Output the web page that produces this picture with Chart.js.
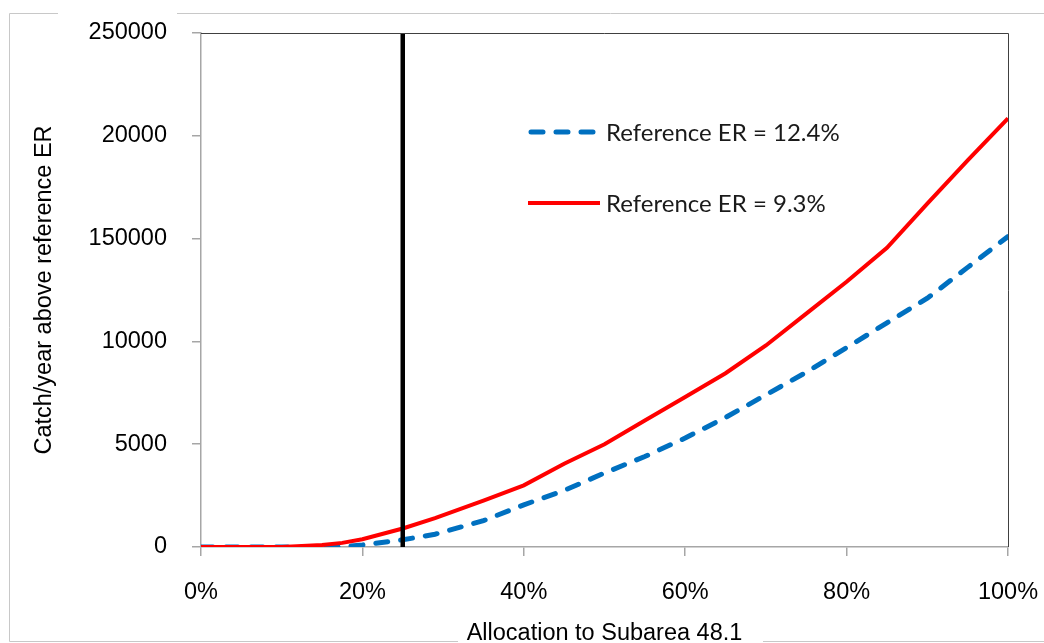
<!DOCTYPE html>
<html>
<head>
<meta charset="utf-8">
<script src="https://cdn.jsdelivr.net/npm/chart.js@4.4.1/dist/chart.umd.min.js"></script>
<style>
  html, body { margin: 0; padding: 0; background: #ffffff; }
  #wrap { width: 1044px; height: 643px; position: relative; }
</style>
</head>
<body>
<div id="wrap"><canvas id="c" width="1044" height="643"></canvas></div>
<script>
// ---- data ----
const allocation = [0, 0.05, 0.10, 0.15, 0.175, 0.20, 0.25, 0.29, 0.35, 0.40, 0.45, 0.50, 0.55, 0.60, 0.65, 0.70, 0.75, 0.80, 0.85, 0.90, 0.95, 1.00];
const catchER124 = [0, 0, 0, 0, 20, 100, 350, 620, 1280, 2050, 2750, 3600, 4400, 5300, 6300, 7400, 8500, 9700, 10900, 12100, 13600, 15100];
const catchER93  = [0, 0, 0, 100, 200, 380, 900, 1400, 2250, 3000, 4050, 5000, 6150, 7300, 8450, 9800, 11350, 12900, 14550, 16700, 18800, 20850];
const seriesLabels = ['Reference ER = 12.4%', 'Reference ER = 9.3%'];
const currentAllocation = 0.25;
const yRange = [0, 25000];
const xTickLabels = ['0%', '20%', '40%', '60%', '80%', '100%'];
const yTickLabels = ['0', '5000', '10000', '150000', '20000', '250000'];
const xTitle = 'Allocation to Subarea 48.1';
const yTitle = 'Catch/year above reference ER';

const toPts = (xs, ys) => xs.map((x, i) => ({ x: x, y: ys[i] }));

const AXIS_FONT = { family: "'Liberation Sans', Arial, sans-serif", size: 23.5, lineHeight: 1 };

function clearScalePadding(s) {
  s.paddingTop = 0; s.paddingBottom = 0; s.paddingLeft = 0; s.paddingRight = 0;
}

const framePlugin = {
  id: 'frame',
  beforeDraw(chart) {
    const ctx = chart.ctx;
    ctx.save();
    ctx.strokeStyle = '#c8c8c8';
    ctx.lineWidth = 1;
    ctx.beginPath();
    ctx.moveTo(9.5, 13.5); ctx.lineTo(9.5, 641.5);
    ctx.moveTo(9.5, 13.5); ctx.lineTo(58, 13.5);
    ctx.moveTo(177, 13.5); ctx.lineTo(1044, 13.5);
    ctx.moveTo(9.5, 641.5); ctx.lineTo(458, 641.5);
    ctx.moveTo(763, 641.5); ctx.lineTo(1044, 641.5);
    ctx.stroke();
    ctx.restore();
  },
  afterDatasetsDraw(chart) {
    const { ctx, chartArea: a } = chart;
    ctx.save();
    ctx.strokeStyle = '#404040';
    ctx.lineWidth = 1;
    ctx.beginPath();
    ctx.moveTo(a.left, a.top + 0.5); ctx.lineTo(a.right + 0.5, a.top + 0.5);
    ctx.lineTo(a.right + 0.5, a.bottom);
    ctx.stroke();
    // legend
    const ds = chart.data.datasets;
    const rows = [{ d: ds[0], y: 132 }, { d: ds[1], y: 203 }];
    rows.forEach(r => {
      ctx.save();
      ctx.strokeStyle = r.d.borderColor;
      ctx.lineWidth = r.d.borderWidth;
      ctx.lineCap = r.d.borderCapStyle || 'butt';
      ctx.setLineDash(r.d.borderDash || []);
      ctx.beginPath();
      if (r.d.borderDash && r.d.borderDash.length) {
        ctx.moveTo(531, r.y); ctx.lineTo(597, r.y);
      } else {
        ctx.moveTo(528, r.y); ctx.lineTo(600, r.y);
      }
      ctx.stroke();
      ctx.restore();
      ctx.fillStyle = '#1a1a1a';
      ctx.font = "24px Lato, 'Open Sans', sans-serif";
      ctx.textBaseline = 'middle';
      ctx.textAlign = 'left';
      ctx.fillText(r.d.label, 606, r.y + 1);
    });
    ctx.restore();
  }
};

new Chart(document.getElementById('c'), {
  type: 'line',
  data: {
    datasets: [
      {
        label: seriesLabels[0],
        data: toPts(allocation, catchER124),
        borderColor: '#0070c0',
        borderWidth: 5,
        borderDash: [12, 13],
        borderCapStyle: 'round',
        pointRadius: 0,
        tension: 0,
        order: 2
      },
      {
        label: seriesLabels[1],
        data: toPts(allocation, catchER93),
        borderColor: '#ff0000',
        borderWidth: 4,
        pointRadius: 0,
        tension: 0,
        order: 1
      },
      {
        label: 'current',
        data: [{ x: currentAllocation, y: yRange[0] }, { x: currentAllocation, y: yRange[1] }],
        borderColor: '#000000',
        borderWidth: 4.5,
        pointRadius: 0,
        order: 0
      }
    ]
  },
  options: {
    responsive: false,
    animation: false,
    devicePixelRatio: 1,
    layout: { padding: { left: 0, top: 33, right: 36, bottom: 0 } },
    plugins: { legend: { display: false }, tooltip: { enabled: false } },
    scales: {
      x: {
        type: 'linear',
        min: 0, max: 1,
        ticks: {
          stepSize: 0.2,
          color: '#000',
          font: AXIS_FONT,
          padding: 25,
          maxRotation: 0,
          callback: (v) => { const i = Math.round(v * 5); return xTickLabels[i]; }
        },
        grid: { drawOnChartArea: false, drawTicks: true, tickLength: 9, color: '#a6a6a6', lineWidth: 1.5 },
        border: { display: true, color: '#a6a6a6', width: 1.5 },
        title: { display: true, text: xTitle, color: '#000', font: AXIS_FONT, padding: { top: 0, bottom: -2 } },
        afterFit: (s) => { s.height = 643 - 547; clearScalePadding(s); }
      },
      y: {
        type: 'linear',
        min: yRange[0], max: yRange[1],
        ticks: {
          stepSize: 5000,
          color: '#000',
          font: AXIS_FONT,
          padding: 25,
          callback: (v) => yTickLabels[Math.round(v / 5000)]
        },
        grid: { drawOnChartArea: false, drawTicks: true, tickLength: 9, color: '#a6a6a6', lineWidth: 1.5 },
        border: { display: true, color: '#a6a6a6', width: 1.5 },
        title: { display: true, text: yTitle, color: '#000', font: AXIS_FONT, padding: { top: 33, bottom: 0 } },
        afterFit: (s) => { s.width = 201; clearScalePadding(s); }
      }
    }
  },
  plugins: [framePlugin]
});
</script>
</body>
</html>
